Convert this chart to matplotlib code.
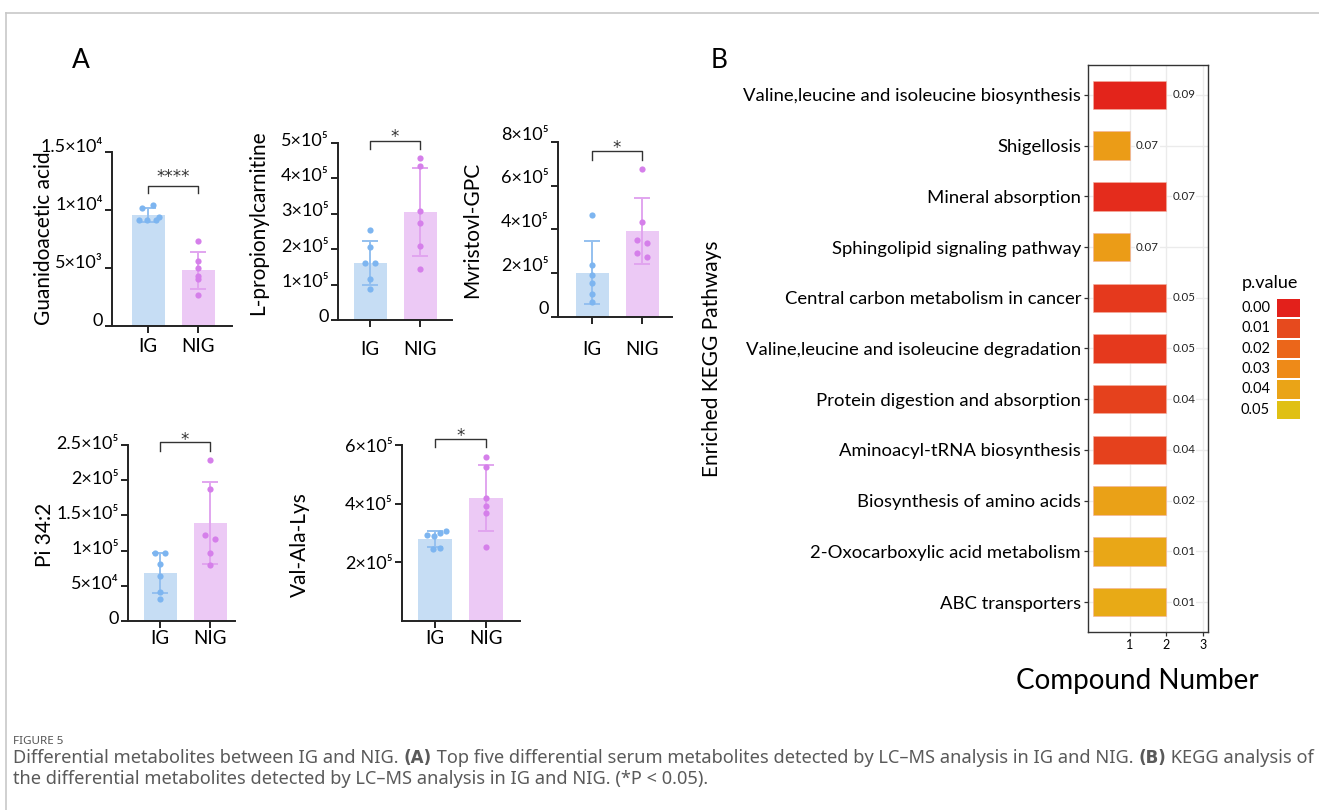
import matplotlib
matplotlib.use("Agg")
import numpy as np
import matplotlib.pyplot as plt
from matplotlib.colors import LinearSegmentedColormap, Normalize
from matplotlib.patches import Rectangle
from matplotlib.lines import Line2D
from matplotlib.transforms import ScaledTranslation

plt.rcParams['font.family'] = ['Lato', 'Noto Sans', 'DejaVu Sans']

# --- DATA: panel A (five metabolites, IG vs NIG) ---
groups = ['IG', 'NIG']

guan_ig = [10200, 10450, 9100, 9100, 9150, 9400]
guan_nig = [7350, 5640, 5010, 4300, 4020, 2710]
guan_mean = [9570, 4790]
guan_sd = [580, 1620]

prop_ig = [253000, 206000, 160000, 160000, 115000, 88000]
prop_nig = [458000, 434000, 309000, 275000, 208000, 144000]
prop_mean = [162000, 305000]
prop_sd = [62000, 123000]

myr_ig = [466000, 237000, 194000, 157000, 104000, 69000]
myr_nig = [675000, 435000, 351000, 339000, 293000, 275000]
myr_mean = [203000, 394000]
myr_sd = [144000, 151000]

pi_ig = [96000, 96000, 80500, 64400, 41700, 30800]
pi_nig = [229000, 187500, 121700, 117000, 96000, 79500]
pi_mean = [67700, 138700]
pi_sd = [28300, 58300]

val_ig = [292000, 290000, 300000, 306000, 247000, 250000]
val_nig = [560000, 526000, 418000, 393000, 367000, 252000]
val_mean = [280000, 419000]
val_sd = [27000, 113000]

guan_ticks = [0, 5000, 10000, 15000]
guan_labels = ['0', '5×10³', '1×10⁴', '1.5×10⁴']
prop_ticks = [0, 100000, 200000, 300000, 400000, 500000]
prop_labels = ['0', '1×10⁵', '2×10⁵', '3×10⁵', '4×10⁵', '5×10⁵']
myr_ticks = [0, 200000, 400000, 600000, 800000]
myr_labels = ['0', '2×10⁵', '4×10⁵', '6×10⁵', '8×10⁵']
pi_ticks = [0, 50000, 100000, 150000, 200000, 250000]
pi_labels = ['0', '5×10⁴', '1×10⁵', '1.5×10⁵', '2×10⁵', '2.5×10⁵']
val_ticks = [200000, 400000, 600000]
val_labels = ['2×10⁵', '4×10⁵', '6×10⁵']

# --- DATA: panel B (KEGG enrichment) ---
pathways = ['Valine,leucine and isoleucine biosynthesis', 'Shigellosis',
            'Mineral absorption', 'Sphingolipid signaling pathway',
            'Central carbon metabolism in cancer',
            'Valine,leucine and isoleucine degradation',
            'Protein digestion and absorption', 'Aminoacyl-tRNA biosynthesis',
            'Biosynthesis of amino acids', '2-Oxocarboxylic acid metabolism',
            'ABC transporters']
compound_number = [2, 1, 2, 1, 2, 2, 2, 2, 2, 2, 2]
rich_factor = [0.09, 0.07, 0.07, 0.07, 0.05, 0.05, 0.04, 0.04, 0.02, 0.01, 0.01]
p_values = [0.001, 0.037, 0.003, 0.037, 0.006, 0.006, 0.008, 0.008, 0.039, 0.041, 0.042]
legend_levels = [0.00, 0.01, 0.02, 0.03, 0.04, 0.05]
legend_colors = ['#E3201B', '#E64A1E', '#EB661A', '#EE8A18', '#EAA417', '#E0C014']

# --- STYLE ---
W, H = 1319, 810
IG_BAR, NIG_BAR = '#C6DDF4', '#ECC9F5'
IG_DOT, NIG_DOT = '#7DB5F0', '#D57FEA'
IG_ERR, NIG_ERR = '#94C0EF', '#E1A5EF'

fig = plt.figure(figsize=(W / 100, H / 100), dpi=100)


def px_axes(l, t, r, b):
    return fig.add_axes([l / W, 1 - b / H, (r - l) / W, (b - t) / H])


def bar_panel(box, xlim, pts_ig, pts_nig, means, sds, ticks, labels, ylim,
              bracket, stars, xpad, ylab_up, jit_ig, jit_nig):
    ax = px_axes(*box)
    x = np.arange(2)
    ax.bar(x, means, width=0.66, color=[IG_BAR, NIG_BAR], zorder=1)
    for i, (m, s, c) in enumerate(zip(means, sds, [IG_ERR, NIG_ERR])):
        ax.errorbar(i, m, yerr=s, color=c, lw=1.4, capsize=6, capthick=1.4, zorder=2)
    ax.scatter(np.array(jit_ig), pts_ig, s=20, color=IG_DOT, zorder=3, lw=0)
    ax.scatter(1 + np.array(jit_nig), pts_nig, s=20, color=NIG_DOT, zorder=3, lw=0)
    ax.set_xlim(*xlim)
    ax.set_ylim(*ylim)
    ax.set_yticks(ticks)
    ax.set_yticklabels(labels, fontsize=13)
    ax.set_xticks(x)
    ax.set_xticklabels(groups, fontsize=13.5)
    for side in ['top', 'right']:
        ax.spines[side].set_visible(False)
    for side in ['left', 'bottom']:
        ax.spines[side].set_linewidth(1.4)
        ax.spines[side].set_color('#222222')
    ax.tick_params(axis='both', length=5, width=1.4, color='#222222')
    ax.tick_params(axis='x', pad=xpad)
    ax.tick_params(axis='y', pad=1.5)
    shift = ScaledTranslation(0, ylab_up / 100, fig.dpi_scale_trans)
    for lab in ax.get_yticklabels():
        lab.set_transform(lab.get_transform() + shift)
    leg, top, sy = bracket
    ax.plot([0, 0, 1, 1], [leg, top, top, leg], color='#333333', lw=1.0, clip_on=False)
    ax.text(0.5, sy, stars, ha='center', va='baseline', fontsize=12, color='#333333',
            family=['DejaVu Sans'])
    return ax


bar_panel((112, 152, 232, 326), (-0.72, 1.68), guan_ig, guan_nig, guan_mean, guan_sd,
          guan_ticks, guan_labels, (0, 15000), (11470, 12070, 12440), '****', 3.4, 7,
          [-0.12, 0.1, -0.02, 0.16, -0.18, 0.22], [0, 0, 0, 0, 0, 0])
bar_panel((338, 143, 452, 320), (-0.64, 1.64), prop_ig, prop_nig, prop_mean, prop_sd,
          prop_ticks, prop_labels, (0, 500000), (483000, 506000, 503700), '*', 9.8, 4,
          [0, 0, -0.1, 0.1, 0, 0], [0, 0, 0, 0, 0, 0])
bar_panel((558, 142, 672, 317), (-0.68, 1.6), myr_ig, myr_nig, myr_mean, myr_sd,
          myr_ticks, myr_labels, (0, 800000), (717000, 758000, 751000), '*', 12, 9,
          [0, 0, 0, 0, 0, 0], [0, 0, -0.1, 0.1, -0.1, 0.1])
bar_panel((128, 445, 235, 621), (-0.64, 1.5), pi_ig, pi_nig, pi_mean, pi_sd,
          pi_ticks, pi_labels, (0, 250000), (241000, 254000, 249400), '*', 1.6, 3,
          [-0.1, 0.1, 0, 0, 0, 0], [0, 0, -0.1, 0.1, 0, 0])
bar_panel((402, 445, 520, 621), (-0.65, 1.67), val_ig, val_nig, val_mean, val_sd,
          val_ticks, val_labels, (0, 600000), (594000, 621000, 612000), '*', 1.4, 0,
          [-0.15, -0.03, 0.1, 0.22, -0.05, 0.1], [0, 0, 0, 0, 0, 0])

# y labels of panel A
for xp, yp, txt in [(44, 238, 'Guanidoacetic acid'), (258, 223, 'L-propionylcarnitine'),
                    (472, 230, 'Mvristovl-GPC'), (45, 535, 'Pi 34:2'),
                    (300, 545, 'Val-Ala-Lys')]:
    fig.text(xp / W, 1 - yp / H, txt, rotation=90, ha='center', va='center', fontsize=15)

fig.text(81 / W, 1 - 60 / H, 'A', ha='center', va='center', fontsize=19)
fig.text(719 / W, 1 - 60 / H, 'B', ha='center', va='center', fontsize=19)

# --- panel B ---
cmap = LinearSegmentedColormap.from_list('pv', legend_colors)
norm = Normalize(vmin=0.0, vmax=0.05)
axB = px_axes(1088, 65, 1208, 632)
yy = np.arange(len(pathways))
axB.barh(yy, compound_number, height=0.56, color=cmap(norm(np.array(p_values))),
         edgecolor='#F3B0A0', linewidth=0.4, zorder=3)
for i, (c, r) in enumerate(zip(compound_number, rich_factor)):
    axB.text(c + 0.17, i, f'{r:.2f}', va='center', ha='left', fontsize=8.3,
             color='#222222', zorder=4,
             bbox=dict(facecolor='white', edgecolor='none', pad=0.5))
axB.set_xlim(-0.136, 3.13)
axB.set_ylim(len(pathways) - 0.41, -0.59)
axB.set_yticks(yy)
axB.set_yticklabels(pathways, fontsize=13.3)
axB.set_xticks([1, 2, 3])
axB.set_xticklabels(['1', '2', '3'], fontsize=9)
axB.grid(True, color='#EBEBEB', lw=1.0, zorder=0)
axB.set_axisbelow(True)
for sp in axB.spines.values():
    sp.set_color('#333333')
    sp.set_linewidth(1.0)
axB.tick_params(axis='both', length=3, width=0.9, color='#333333', pad=2)
fig.text(712 / W, 1 - 359 / H, 'Enriched KEGG Pathways', rotation=90,
         ha='center', va='center', fontsize=15)
fig.text(1137 / W, 1 - 681 / H, 'Compound Number', ha='center', va='center', fontsize=20)

# legend for p.value
axL = px_axes(1277, 298, 1300, 420)
for i, lv in enumerate(legend_levels):
    axL.add_patch(Rectangle((0, i + 0.05), 1, 0.9, facecolor=cmap(norm(lv)), edgecolor='none'))
    axL.text(-0.3, i + 0.5, f'{lv:.2f}', ha='right', va='center', fontsize=10.5)
axL.set_xlim(0, 1)
axL.set_ylim(len(legend_levels), 0)
axL.axis('off')
fig.text(1242 / W, 1 - 283 / H, 'p.value', ha='left', va='center', fontsize=13)

# --- page frame and caption ---
fig.add_artist(Line2D([6 / W, 1], [1 - 13 / H, 1 - 13 / H], color='#C8C8C8', lw=1.2))
fig.add_artist(Line2D([6 / W, 6 / W], [0, 1 - 13 / H], color='#C8C8C8', lw=1.2))

cap_font = ['Noto Sans', 'DejaVu Sans']
fig.text(13 / W, 1 - 741 / H, 'FIGURE 5', ha='left', va='center', fontsize=8.4,
         color='#555555', family=cap_font)

renderer = fig.canvas.get_renderer()


def rich_line(x_px, y_px, parts, size):
    x = x_px
    texts = []
    for s, bold in parts:
        t = fig.text(x / W, 1 - y_px / H, s, ha='left', va='center',
                     fontsize=size * (0.92 if bold else 1.0), color='#5a5a5a',
                     fontweight='bold' if bold else 'normal',
                     family=['DejaVu Sans'] if bold else cap_font)
        x += t.get_window_extent(renderer=renderer).width
        texts.append(t)
    return texts, x - x_px


line1 = [('Differential metabolites between IG and NIG. ', False), ('(A)', True),
         (' Top five differential serum metabolites detected by LC–MS analysis in IG and NIG. ', False),
         ('(B)', True), (' KEGG analysis of', False)]
line2 = [('the differential metabolites detected by LC–MS analysis in IG and NIG. (*P < 0.05).', False)]

# fit the first caption line to the page width, like the reference
probe, width = rich_line(13, 758, line1, 10)
for t in probe:
    t.remove()
cap_size = 10 * 1302 / width
rich_line(13, 758, line1, cap_size)
rich_line(13, 779, line2, cap_size)

fig.savefig('out.png', dpi=100)
